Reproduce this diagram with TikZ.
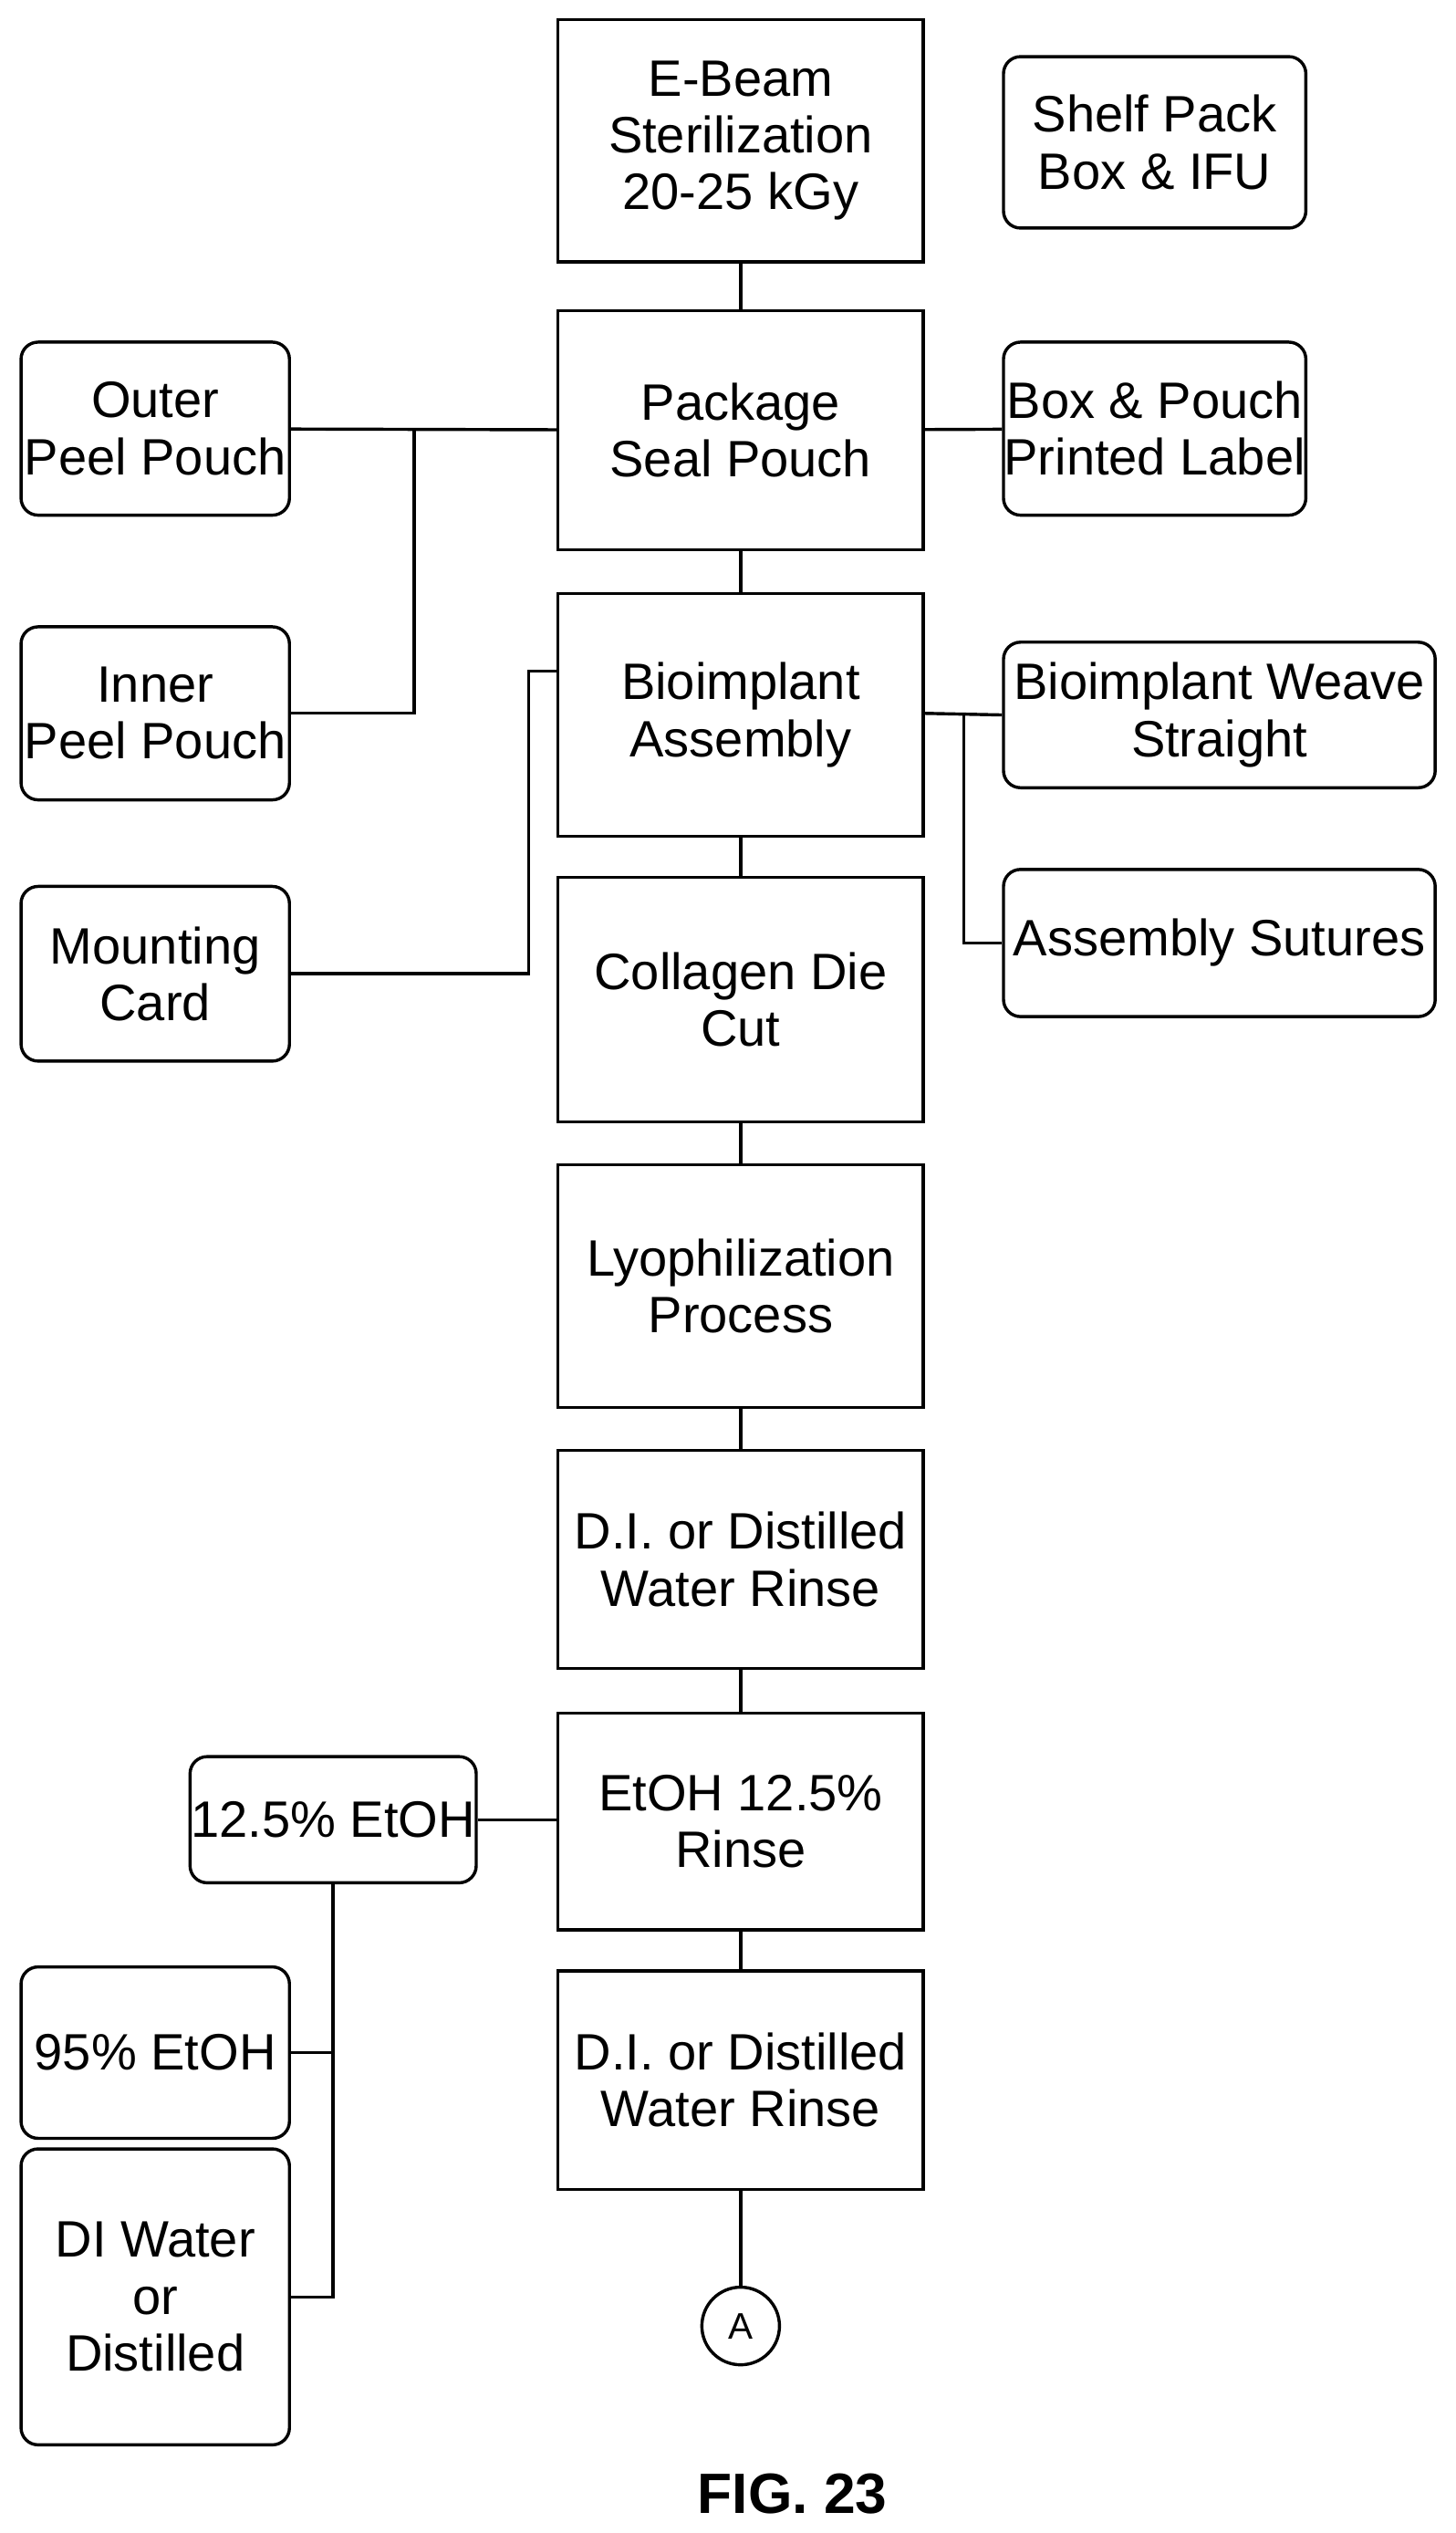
\documentclass[tikz,border=0pt]{standalone}
\usepackage{fontspec}
\setmainfont{Liberation Sans}
\usetikzlibrary{positioning}
\begin{document}
\begin{tikzpicture}[x=0.02cm,y=0.02cm,yscale=-1,xscale=1,
  stage/.style={draw,line width=1.1pt,minimum width=4.52cm,align=center,inner sep=0pt,font=\fontsize{18}{20}\selectfont},
  side/.style={draw,line width=1.1pt,rounded corners=6pt,align=center,inner sep=0pt,font=\fontsize{18}{20}\selectfont},
  link/.style={line width=1.1pt}]
\useasboundingbox (0,0) rectangle (900,1566);

%main column
\node[stage,minimum height=3cm] (beam) at (458,87) {E-Beam\\Sterilization\\20-25 kGy};
\node[stage,minimum height=2.96cm] (seal) at (458,266) {Package\\Seal Pouch};
\node[stage,minimum height=3cm] (assy) at (458,442) {Bioimplant\\Assembly};
\node[stage,minimum height=3.02cm] (die) at (458,618) {Collagen Die\\Cut};
\node[stage,minimum height=3cm] (lyo) at (458,795) {Lyophilization\\Process};
\node[stage,minimum height=2.7cm] (rinseA) at (458,964) {D.I. or Distilled\\Water Rinse};
\node[stage,minimum height=2.68cm] (etoh) at (458,1126) {EtOH 12.5\%\\Rinse};
\node[stage,minimum height=2.7cm] (rinseB) at (458,1286) {D.I. or Distilled\\Water Rinse};
\node[draw,circle,line width=1.1pt,minimum size=0.96cm,inner sep=0pt,font=\fontsize{13}{14}\selectfont] (conA) at (458,1438) {A};

%side boxes
\node[side,minimum width=3.74cm,minimum height=2.12cm] (shelf) at (714,88) {Shelf Pack\\Box \& IFU};
\node[side,minimum width=3.74cm,minimum height=2.14cm] (label) at (714,265) {Box \& Pouch\\Printed Label};
\node[side,minimum width=5.34cm,minimum height=1.8cm] (weave) at (754,442) {Bioimplant Weave\\Straight};
\node[side,minimum width=5.34cm,minimum height=1.82cm] (sutures) at (754,583) {Assembly Sutures};
\node[side,minimum width=3.32cm,minimum height=2.14cm] (outer) at (96,265) {Outer\\Peel Pouch};
\node[side,minimum width=3.32cm,minimum height=2.14cm] (inner) at (96,441) {Inner\\Peel Pouch};
\node[side,minimum width=3.32cm,minimum height=2.16cm] (card) at (96,602) {Mounting\\Card};
\node[side,minimum width=3.54cm,minimum height=1.56cm] (mix) at (206,1125) {12.5\% EtOH};
\node[side,minimum width=3.32cm,minimum height=2.12cm] (pure) at (96,1269) {95\% EtOH};
\node[side,minimum width=3.32cm,minimum height=3.66cm] (water) at (96,1420) {DI Water\\or\\Distilled};

\node[font=\bfseries\fontsize{20}{22}\selectfont] (fig) at (490,1542) {FIG. 23};

%connectors
\draw[link] (beam) -- (seal);
\draw[link] (seal) -- (assy);
\draw[link] (assy) -- (die);
\draw[link] (die) -- (lyo);
\draw[link] (lyo) -- (rinseA);
\draw[link] (rinseA) -- (etoh);
\draw[link] (etoh) -- (rinseB);
\draw[link] (rinseB) -- (conA);
\draw[link] (outer) -- (seal);
\draw[link] (inner.east) -| (256,265);
\draw[link] (seal) -- (label);
\draw[link] (card.east) -- (327,602) |- (assy.west|-0,415);
\draw[link] (assy.east|-0,441) -- (weave.west);
\draw[link] (sutures.west) -| (596,441);
\draw[link] (mix) -- (etoh.west|-mix);
\draw[link] (mix.south) |- (water.east);
\draw[link] (pure.east) -- (mix.south|-pure.east);
\end{tikzpicture}
\end{document}
